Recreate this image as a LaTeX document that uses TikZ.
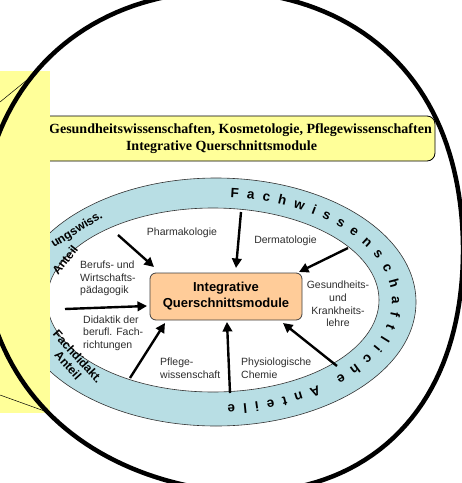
\documentclass[tikz,border=0pt]{standalone}
\usepackage{fontspec}
\setmainfont{Liberation Sans}
\newfontfamily\headfont{Liberation Serif}
\usetikzlibrary{arrows.meta,decorations.text}
\definecolor{lyellow}{HTML}{FFFF99}
\definecolor{ringteal}{RGB}{184,222,228}
\definecolor{boxorange}{HTML}{FFCC99}
\definecolor{labelgray}{RGB}{45,45,45}
\begin{document}
\begin{tikzpicture}[x=1pt,y=-1pt,
  declare function={
    R(\t)=248.6+4.42*cos(\t)-3.6*sin(\t)-4.12*cos(2*\t)+4.32*sin(2*\t)
          -2.77*cos(3*\t)+0.41*sin(3*\t)-3.125*cos(4*\t)-0.75*sin(4*\t);},
  lbl/.style={font=\fontsize{10.5}{12.7}\selectfont, text=labelgray, inner sep=0pt},
  lblc/.style={lbl, align=center},
  lbll/.style={lbl, align=left, anchor=west},
  arr/.style={line width=2.4pt, -{Triangle[length=9.5pt,width=9.5pt]}},
  ringlbl/.style={font=\bfseries\fontsize{12}{13}\selectfont, inner sep=0pt},
  headline/.style={font=\headfont\bfseries\fontsize{14}{16}\selectfont, inner sep=0pt},
  thin/.style={line width=0.5pt},
]
\useasboundingbox (0,0) rectangle (462,483);

% ring
\draw[fill=ringteal, line width=0.6pt, draw=black!80] (216,302) ellipse [x radius=200, y radius=124];
\draw[fill=white, line width=0.6pt, draw=black!80] (213,300) ellipse [x radius=166, y radius=92];

% text along ring
\begin{scope}[y=1pt]
\path[decorate, decoration={text along path,
   text={|\bfseries\fontsize{13.5}{13.5}\selectfont|Fachwissenschaftliche Anteile},
   text align=fit to path}]
   (215pt,-301pt) ++(85:177pt and 104pt)
   arc[start angle=85, end angle=-86, x radius=177pt, y radius=104pt];
\end{scope}

\node[ringlbl, rotate=32] (rl1) at (77,230) {ungswiss.};
\node[ringlbl, rotate=52] (rl2) at (65,260) {Anteil};
\node[ringlbl, rotate=-48, align=center] (rl3) at (73,361) {Fachdidakt.\\Anteil};

% centre box
\node[draw=black!75, fill=boxorange, rounded corners=6pt, line width=0.8pt,
      minimum width=152pt, minimum height=47pt, inner sep=0pt, align=center,
      font=\bfseries\fontsize{13}{16}\selectfont] (core) at (226,296.5)
      {Integrative\\Querschnittsmodule};

% labels
\node[lblc] (pharm) at (182,233) {Pharmakologie};
\node[lblc] (derm) at (285.5,241) {Dermatologie};
\node[lblc] (gesund) at (338,304) {Gesundheits-\\und\\Krankheits-\\lehre};
\node[lbll] (phys) at (241,368.5) {Physiologische\\Chemie};
\node[lbll] (pflege) at (160,368.5) {Pflege-\\wissenschaft};
\node[lbll] (didak) at (83,333) {Didaktik der\\berufl. Fach-\\richtungen};
\node[lbll] (beruf) at (80,278.5) {Berufs- und\\Wirtschafts-\\pädagogik};

% arrows
\coordinate (a1s) at (118,235); \coordinate (a1e) at (154,267);
\coordinate (a2s) at (241,212); \coordinate (a2e) at (236,268);
\coordinate (a3s) at (348,248); \coordinate (a3e) at (299,272);
\coordinate (a4s) at (65,309);  \coordinate (a4e) at (147,306);
\coordinate (a5s) at (130,378); \coordinate (a5e) at (165,323);
\coordinate (a6s) at (230,393); \coordinate (a6e) at (227,322);
\coordinate (a7s) at (337,366); \coordinate (a7e) at (283,323);
\foreach \i in {1,...,7} \draw[arr] (a\i s) -- (a\i e);

% header box
\node[draw=black, fill=lyellow, rounded corners=8pt, line width=0.8pt,
      minimum width=405pt, minimum height=45pt, inner sep=0pt] (hdr) at (232.5,138.5) {};
\node[headline, anchor=east] (h1) at (432,130)
  {Gesundheitswissenschaften, Kosmetologie, Pflegewissenschaften};
\node[headline] (h2) at (221.5,147) {Integrative Querschnittsmodule};

% left yellow panel
\fill[lyellow] (0,71) rectangle (50,413);
\coordinate (t1a) at (0,102); \coordinate (t1b) at (38,71);
\coordinate (t2a) at (0,395); \coordinate (t2b) at (50,413);
\draw[thin] (t1a) -- (t1b);
\draw[thin] (t2a) -- (t2b);

% big outline
\draw[line width=4.5pt, line join=round] plot[domain=0:360, samples=181, variable=\t]
  ({220+R(\t)*cos(\t)},{245+R(\t)*sin(\t)}) -- cycle;
\end{tikzpicture}
\end{document}
